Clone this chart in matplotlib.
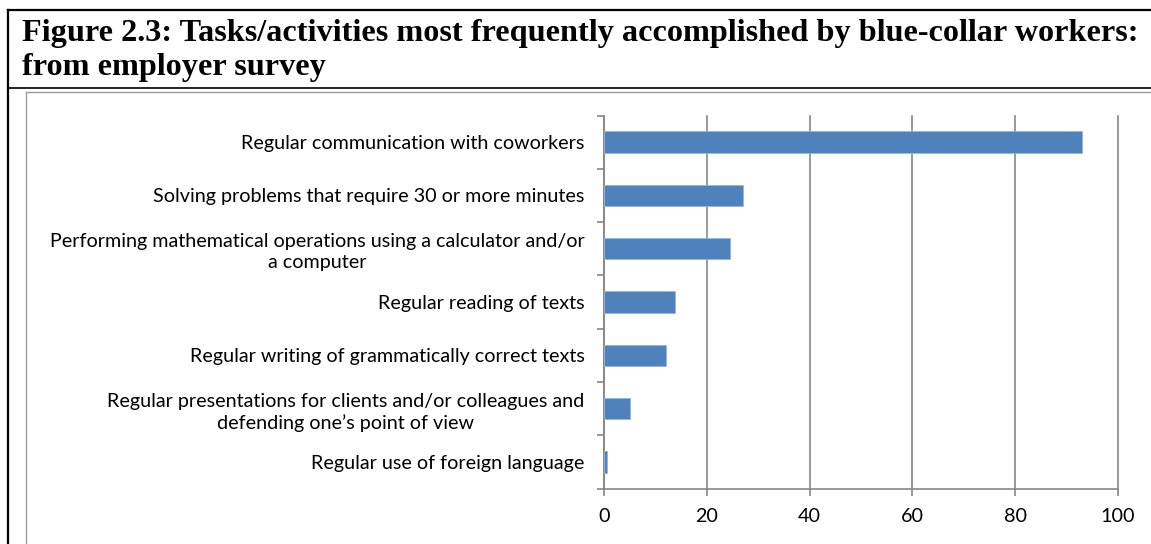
import numpy as np
import matplotlib.pyplot as plt
from matplotlib.lines import Line2D

# data (top to bottom as shown)
tasks = [
    "Regular communication with coworkers",
    "Solving problems that require 30 or more minutes",
    "Performing mathematical operations using a calculator and/or\na computer",
    "Regular reading of texts",
    "Regular writing of grammatically correct texts",
    "Regular presentations for clients and/or colleagues and\ndefending one\u2019s point of view",
    "Regular use of foreign language",
]
shares = [92.9, 27.1, 24.6, 13.9, 12.1, 5.0, 0.6]
xticks = [0, 20, 40, 60, 80, 100]

W, H = 1151, 544
fig = plt.figure(figsize=(W / 100, H / 100), dpi=100)

def fx(px):
    return px / W

def fy(py):
    return 1 - py / H

# outer document box + title
fig.add_artist(Line2D([fx(8), fx(8)], [fy(10), fy(544)], color="black", lw=1.6))
fig.add_artist(Line2D([fx(8), fx(1151)], [fy(10), fy(10)], color="black", lw=1.6))
fig.add_artist(Line2D([fx(8), fx(1151)], [fy(88), fy(88)], color="black", lw=1.2))
fig.text(fx(22), fy(34),
         "Figure 2.3: Tasks/activities most frequently accomplished by blue-collar workers:",
         family="Liberation Serif", fontweight="bold", fontsize=23.2, va="center", ha="left")
fig.text(fx(22), fy(68), "from employer survey",
         family="Liberation Serif", fontweight="bold", fontsize=23.2, va="center", ha="left")

# chart frame (gray)
fig.add_artist(Line2D([fx(26), fx(26)], [fy(92), fy(544)], color="#9a9a9a", lw=1.0))
fig.add_artist(Line2D([fx(26), fx(1151)], [fy(92), fy(92)], color="#9a9a9a", lw=1.0))

ax = fig.add_axes([fx(604), fy(488.5), fx(1118 - 604), (488.5 - 115.5) / H])
y = np.arange(len(tasks))
ax.barh(y, shares, height=0.4, color="#4F81BD", edgecolor="#9ab5dc", linewidth=0.6, zorder=3)
ax.set_ylim(len(tasks) - 0.5, -0.5)
ax.set_xlim(0, 100)
ax.set_xticks(xticks)
ax.set_xticklabels([str(v) for v in xticks])
ax.set_yticks(y)
ax.set_yticklabels(tasks)
for lab in ax.get_yticklabels():
    lab.set_multialignment("center")
    lab.set_linespacing(1.3)
ax.set_yticks(np.arange(len(tasks) + 1) - 0.5, minor=True)

ax.grid(axis="x", color="#878787", lw=1.2, zorder=0)
for gl in ax.get_xgridlines():
    gl.set_clip_on(False)
for s in ["top", "right"]:
    ax.spines[s].set_visible(False)
for s in ["left", "bottom"]:
    ax.spines[s].set_color("#878787")
    ax.spines[s].set_linewidth(1.2)

ax.tick_params(axis="y", which="major", length=0, pad=14)
ax.tick_params(axis="y", which="minor", length=5, color="#878787", width=1.2)
ax.tick_params(axis="x", length=5, color="#878787", width=1.2, pad=9)
for lab in ax.get_xticklabels() + ax.get_yticklabels():
    lab.set_family("Lato")
    lab.set_fontsize(14.2)
    lab.set_color("black")

fig.savefig("out.png", dpi=100)
